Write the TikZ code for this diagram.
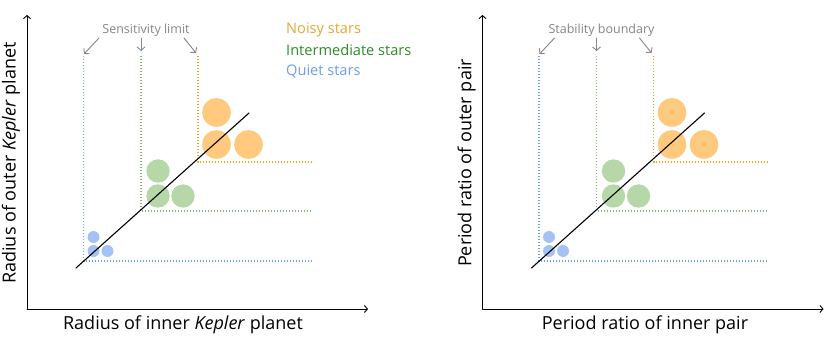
\documentclass[tikz,border=0pt]{standalone}
\usepackage{fontspec}
\setmainfont{Open Sans}
\usetikzlibrary{arrows.meta}

\definecolor{noisyline}{HTML}{FFA31A}
\definecolor{noisyfill}{HTML}{FFCA7E}
\definecolor{noisytext}{HTML}{E6A637}
\definecolor{interline}{HTML}{7FB866}
\definecolor{interfill}{HTML}{B6D7A8}
\definecolor{intertext}{HTML}{2C8C22}
\definecolor{quietline}{HTML}{6D9EEB}
\definecolor{quietfill}{HTML}{A4C2F4}
\definecolor{limitgray}{HTML}{858585}

\begin{document}
\begin{tikzpicture}[x=1pt,y=-1pt,line cap=round,line join=round,
  axis/.style={draw=black,line width=.9pt,-{Straight Barb[length=3pt,width=7pt]}},
  bound/.style={line width=1.2pt,line cap=butt,dash pattern=on 1.2pt off 1.8pt},
  pointer/.style={draw=limitgray,line width=.9pt,-{Straight Barb[length=3.5pt,width=8pt]}},
  trend/.style={draw=black,line width=1.1pt},
  axislabel/.style={font=\fontsize{18}{21}\selectfont,inner sep=0pt},
  limitlabel/.style={font=\fontsize{12.5}{15}\selectfont,text=limitgray,inner sep=0pt},
  legendlabel/.style={font=\fontsize{14.6}{17}\selectfont,anchor=west,inner sep=0pt}]
\path[use as bounding box] (0,0) rectangle (830,339);

% both panels share the same layout
\foreach \dx/\p in {0/a,455.5/b} {
  \begin{scope}[xshift=\dx pt]
    % axes
    \coordinate (orig\p) at (27,309);
    \coordinate (ytop\p) at (27,15);
    \coordinate (xend\p) at (368,309);
    \draw[axis] (orig\p) -- (ytop\p);
    \draw[axis] (orig\p) -- (xend\p);
    % limits
    \coordinate (qc\p) at (83.5,261);
    \coordinate (ic\p) at (141,211);
    \coordinate (nc\p) at (198,162);
    \draw[bound,quietline] (83.5,56) -- (qc\p) -- (312,261);
    \draw[bound,interline] (141,56) -- (ic\p) -- (312,211);
    \draw[bound,noisyline] (198,56) -- (nc\p) -- (312,162);
    % stars
    \fill[quietfill] (93.5,237) circle (6pt) (93.5,251) circle (6pt) (107.5,251) circle (6pt);
    \fill[interfill] (158,171) circle (11.7pt) (158,196) circle (11.7pt) (183,196) circle (11.7pt);
    \fill[noisyfill] (216.5,112.5) circle (14.3pt) (216.5,144.5) circle (14.3pt) (248.5,144.5) circle (14.3pt);
    % trend
    \coordinate (tlo\p) at (76,268);
    \coordinate (thi\p) at (249,113);
    \draw[trend] (tlo\p) -- (thi\p);
    % pointers to the limits
    \coordinate (ps1\p) at (99,38);
    \coordinate (pe1\p) at (84,54);
    \coordinate (ps2\p) at (141,38);
    \coordinate (pe2\p) at (141,51);
    \coordinate (ps3\p) at (184,38);
    \coordinate (pe3\p) at (196,53);
    \draw[pointer] (ps1\p) -- (pe1\p);
    \draw[pointer] (ps2\p) -- (pe2\p);
    \draw[pointer] (ps3\p) -- (pe3\p);
  \end{scope}
}

\node[limitlabel] (lima) at (146,30) {Sensitivity limit};
\node[limitlabel] (limb) at (601.5,30) {Stability boundary};

\node[axislabel] (xlaba) at (183,325) {Radius of inner \textit{Kepler} planet};
\node[axislabel,rotate=90] (ylaba) at (11,163) {Radius of outer \textit{Kepler} planet};
\node[axislabel] (xlabb) at (645,325) {Period ratio of inner pair};
\node[axislabel,rotate=90] (ylabb) at (466.7,163) {Period ratio of outer pair};

\node[legendlabel,text=noisytext] (noisy) at (286,30) {Noisy stars};
\node[legendlabel,text=intertext] (inter) at (286,50) {Intermediate stars};
\node[legendlabel,text=quietline] (quiet) at (286,71) {Quiet stars};
\end{tikzpicture}
\end{document}
